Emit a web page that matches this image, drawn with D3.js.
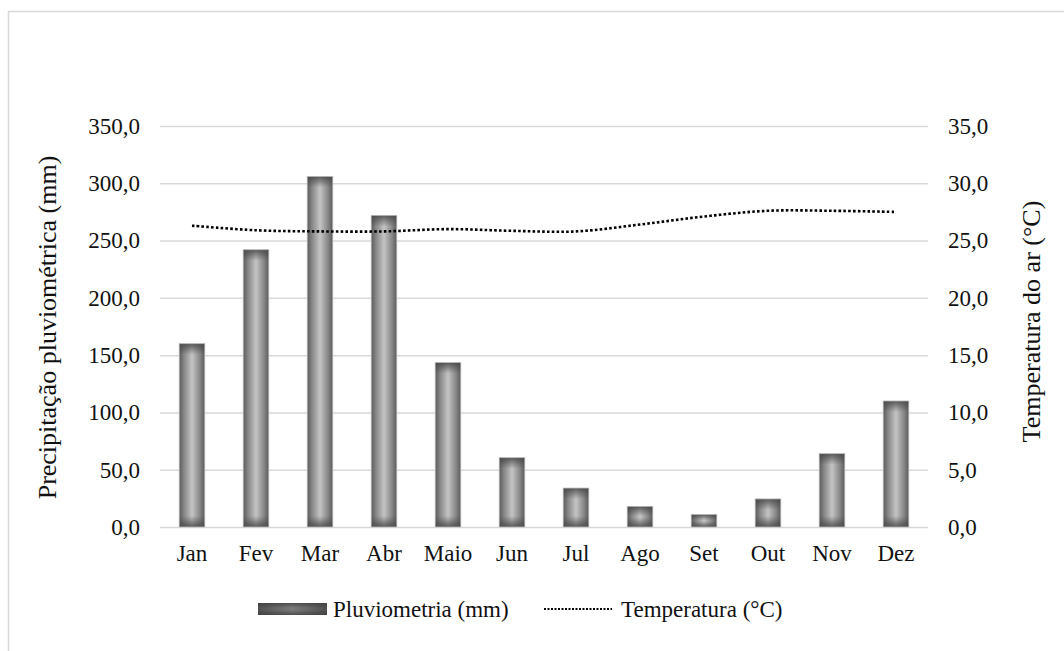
<!DOCTYPE html>
<html>
<head>
<meta charset="utf-8">
<script src="https://cdn.jsdelivr.net/npm/d3@7"></script>
<style>
  html, body { margin: 0; padding: 0; background: #fff; }
  svg { display: block; }
</style>
</head>
<body>
<svg id="chart" width="1064" height="651"></svg>
<script>
const months = ["Jan", "Fev", "Mar", "Abr", "Maio", "Jun", "Jul", "Ago", "Set", "Out", "Nov", "Dez"];
const rainfall = [160, 242, 306, 272, 143.5, 60.5, 34, 18, 11, 24.5, 64, 110];
const temperature = [26.3, 25.9, 25.8, 25.8, 26.0, 25.85, 25.8, 26.4, 27.1, 27.6, 27.6, 27.5];
const leftTicks = [0, 50, 100, 150, 200, 250, 300, 350];
const rightTicks = [0, 5, 10, 15, 20, 25, 30, 35];
const leftTitle = "Precipitação pluviométrica (mm)";
const rightTitle = "Temperatura do ar (°C)";
const legendLabels = ["Pluviometria (mm)", "Temperatura (°C)"];

const FONT = "'Liberation Serif', 'Times New Roman', 'DejaVu Serif', serif";
const svg = d3.select("#chart");
const plot = { left: 160, right: 928, top: 126, bottom: 527 };

// outer frame
svg.append("path")
  .attr("d", "M8.5,651 L8.5,11.5 L1064,11.5")
  .attr("fill", "none").attr("stroke", "#d9d9d9").attr("stroke-width", 1.5);

const x = d3.scaleBand().domain(months).range([plot.left, plot.right]).paddingInner(0.6).paddingOuter(0.3);
const yL = d3.scaleLinear().domain([0, 350]).range([plot.bottom, plot.top]);
const yR = d3.scaleLinear().domain([0, 35]).range([plot.bottom, plot.top]);

const fmt = v => d3.format(".1f")(v).replace(".", ",");

function styleText(sel, size) {
  sel.style("font-family", FONT).style("font-size", size + "px").style("fill", "#111");
}

// gradients
const defs = svg.append("defs");
const hg = defs.append("linearGradient").attr("id", "barH").attr("x1", "0").attr("x2", "1").attr("y1", "0").attr("y2", "0");
[[0, "#5a5a5a"], [0.18, "#858585"], [0.5, "#c4c4c4"], [0.82, "#858585"], [1, "#5a5a5a"]]
  .forEach(([o, c]) => hg.append("stop").attr("offset", o).attr("stop-color", c));
const lg = defs.append("linearGradient").attr("id", "legH").attr("x1", "0").attr("x2", "1");
[[0, "#4f4f4f"], [0.5, "#7a7a7a"], [1, "#4f4f4f"]]
  .forEach(([o, c]) => lg.append("stop").attr("offset", o).attr("stop-color", c));
const lgv = defs.append("linearGradient").attr("id", "legV").attr("x1", "0").attr("x2", "0").attr("y1", "0").attr("y2", "1");
[[0, "rgba(60,60,60,0.7)"], [0.4, "rgba(60,60,60,0)"], [0.6, "rgba(60,60,60,0)"], [1, "rgba(60,60,60,0.7)"]]
  .forEach(([o, c]) => lgv.append("stop").attr("offset", o).attr("stop-color", c));

// left axis (gridlines + labels)
const leftAxis = d3.axisLeft(yL).tickValues(leftTicks).tickFormat(fmt)
  .tickSize(-(plot.right - plot.left)).tickPadding(20);
const gl = svg.append("g").attr("transform", `translate(${plot.left},0)`).call(leftAxis);
gl.select(".domain").remove();
gl.selectAll(".tick line").attr("stroke", "#d9d9d9").attr("stroke-width", 1.5);
styleText(gl.selectAll(".tick text"), 23);

// right axis labels
const rightAxis = d3.axisRight(yR).tickValues(rightTicks).tickFormat(fmt).tickSize(0).tickPadding(20);
const gr = svg.append("g").attr("transform", `translate(${plot.right},0)`).call(rightAxis);
gr.select(".domain").remove();
styleText(gr.selectAll(".tick text"), 23);

// bars
const bars = svg.append("g").selectAll("g.bar").data(months.map((m, i) => ({ m, v: rainfall[i] })))
  .join("g").attr("class", "bar");
bars.append("rect")
  .attr("x", d => x(d.m)).attr("width", x.bandwidth())
  .attr("y", d => yL(d.v)).attr("height", d => yL(0) - yL(d.v))
  .attr("fill", "url(#barH)");
bars.each(function (d, i) {
  const h = yL(0) - yL(d.v);
  const e = Math.min(0.45, 11 / h);
  const g = defs.append("linearGradient").attr("id", "barV" + i)
    .attr("x1", "0").attr("x2", "0").attr("y1", "0").attr("y2", "1");
  [[0, "rgba(70,70,70,0.85)"], [e, "rgba(70,70,70,0)"], [1 - e, "rgba(70,70,70,0)"], [1, "rgba(70,70,70,0.85)"]]
    .forEach(([o, c]) => g.append("stop").attr("offset", o).attr("stop-color", c));
  d3.select(this).append("rect")
    .attr("x", x(d.m)).attr("width", x.bandwidth())
    .attr("y", yL(d.v)).attr("height", h)
    .attr("fill", `url(#barV${i})`)
    .attr("stroke", "#bdbdbd").attr("stroke-width", 0.8);
});

// x axis labels
const xAxis = d3.axisBottom(x).tickSize(0).tickPadding(18);
const gx = svg.append("g").attr("transform", `translate(0,${plot.bottom})`).call(xAxis);
gx.select(".domain").remove();
styleText(gx.selectAll(".tick text"), 23);

// temperature line
const line = d3.line()
  .x((d, i) => x(months[i]) + x.bandwidth() / 2)
  .y(d => yR(d))
  .curve(d3.curveCatmullRom.alpha(0.5));
svg.append("path").datum(temperature)
  .attr("d", line).attr("fill", "none")
  .attr("stroke", "#000").attr("stroke-width", 2.6).attr("stroke-dasharray", "2.6,2.2");

// axis titles
styleText(svg.append("text")
  .attr("transform", `translate(56,${(plot.top + plot.bottom) / 2 + 1}) rotate(-90)`)
  .attr("text-anchor", "middle").text(leftTitle), 26);
styleText(svg.append("text")
  .attr("transform", `translate(1040,${(plot.top + plot.bottom) / 2 - 5}) rotate(-90)`)
  .attr("text-anchor", "middle").text(rightTitle), 26);

// legend
const leg = svg.append("g");
leg.append("rect").attr("x", 258).attr("y", 603).attr("width", 69).attr("height", 12).attr("fill", "url(#legH)");
leg.append("rect").attr("x", 258).attr("y", 603).attr("width", 69).attr("height", 12).attr("fill", "url(#legV)");
styleText(leg.append("text").attr("x", 333).attr("y", 617).text(legendLabels[0]), 23);
leg.append("line").attr("x1", 544).attr("x2", 612).attr("y1", 609).attr("y2", 609)
  .attr("stroke", "#000").attr("stroke-width", 2).attr("stroke-dasharray", "2,1.5");
styleText(leg.append("text").attr("x", 621).attr("y", 617).text(legendLabels[1]), 23);
</script>
</body>
</html>
